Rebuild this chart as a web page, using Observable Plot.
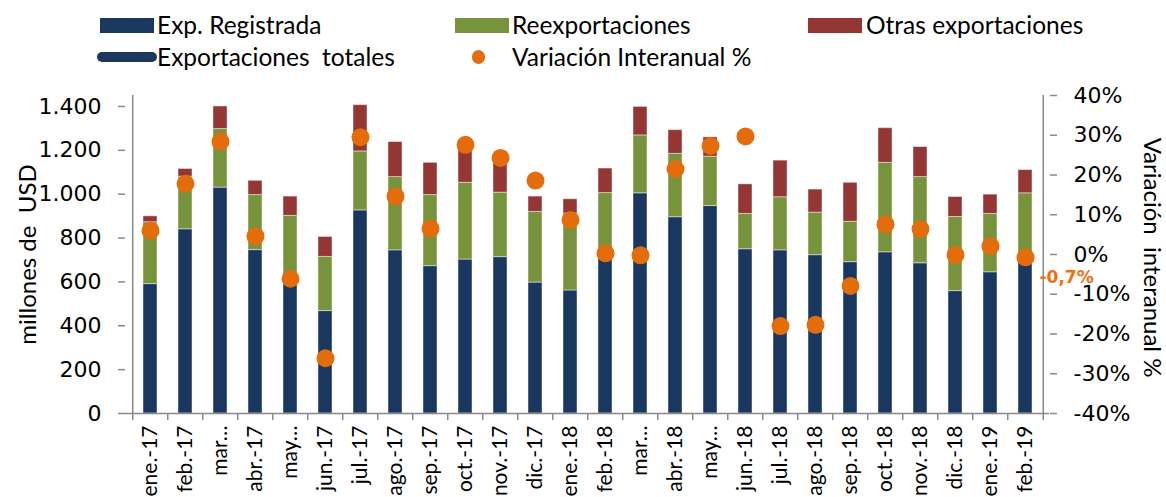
<!DOCTYPE html>
<html><head><meta charset="utf-8">
<script src="https://cdn.jsdelivr.net/npm/d3@7"></script>
<script src="https://cdn.jsdelivr.net/npm/@observablehq/plot@0.6"></script>
<style>
body{margin:0;background:#fff;font-family:Lato, "Open Sans", sans-serif;}
#legend{position:relative;height:80px;width:1166px;font-size:24.5px;color:#000;}
.sw{position:absolute;}
.lt{position:absolute;white-space:pre;line-height:1;transform:translateY(-50%);}
</style></head><body>
<div id="legend"></div>
<div id="chart"></div>
<script>
const months = ["ene.-17","feb.-17","mar.-17","abr.-17","may.-17","jun.-17","jul.-17","ago.-17","sep.-17","oct.-17","nov.-17","dic.-17","ene.-18","feb.-18","mar.-18","abr.-18","may.-18","jun.-18","jul.-18","ago.-18","sep.-18","oct.-18","nov.-18","dic.-18","ene.-19","feb.-19"];
const tickLabels = ["ene.-17","feb.-17","mar…","abr.-17","may…","jun.-17","jul.-17","ago.-17","sep.-17","oct.-17","nov.-17","dic.-17","ene.-18","feb.-18","mar…","abr.-18","may…","jun.-18","jul.-18","ago.-18","sep.-18","oct.-18","nov.-18","dic.-18","ene.-19","feb.-19"];
const registrada = [590, 840, 1030, 745, 590, 467, 926, 744, 672, 702, 713, 597, 561, 710, 1004, 895, 946, 749, 744, 722, 690, 735, 685, 558, 644, 690];
const reexportaciones = [282, 240, 267, 251, 311, 247, 269, 334, 324, 350, 294, 322, 351, 295, 264, 289, 225, 161, 242, 194, 184, 408, 393, 338, 266, 314];
const otras = [27, 35, 103, 65, 88, 91, 211, 160, 147, 154, 135, 70, 65, 112, 130, 108, 88, 135, 167, 105, 178, 158, 137, 91, 88, 106];
const variacion = [6.0, 17.8, 28.4, 4.6, -6.1, -26.1, 29.5, 14.6, 6.5, 27.6, 24.3, 18.6, 8.7, 0.3, -0.2, 21.5, 27.3, 29.7, -18.0, -17.7, -7.9, 7.6, 6.4, -0.1, 2.1, -0.7];
const leftTicks = [0, 200, 400, 600, 800, 1000, 1200, 1400];
const rightTicks = [-40, -30, -20, -10, 0, 10, 20, 30, 40];
const seriesNames = ["Exp. Registrada", "Reexportaciones", "Otras exportaciones"];
const seriesColors = ["#1a3760", "#77933c", "#943634"];
const orange = "#e46c0a";
const navy = "#1a3760";

const yMax = 1450, pMin = -40, pMax = 40;
const toY = p => (p - pMin) / (pMax - pMin) * yMax;
const fromY = v => v / yMax * (pMax - pMin) + pMin;

// legend (HTML, above the SVG)
const legend = document.getElementById("legend");
function add(html){ legend.insertAdjacentHTML("beforeend", html); }
const row1 = 25, row2 = 57;
const sw = [[100,157],[455,512],[808,866]];
seriesNames.forEach((s,i)=>{
  add(`<div class="sw" style="left:${sw[i][0]}px;top:${row1-7}px;width:54px;height:15px;background:${seriesColors[i]}"></div>`);
  add(`<div class="lt" style="left:${sw[i][1]}px;top:${row1}px">${s}</div>`);
});
add(`<div class="sw" style="left:97px;top:${row2-5}px;width:60px;height:10px;border-radius:5px;background:${navy}"></div>`);
add(`<div class="lt" style="left:157px;top:${row2}px">Exportaciones  totales</div>`);
add(`<div class="sw" style="left:472px;top:${row2-7}px;width:13px;height:14px;border-radius:7px;background:${orange}"></div>`);
add(`<div class="lt" style="left:512px;top:${row2}px">Variación Interanual %</div>`);

const long = [];
seriesNames.forEach((s,k)=>{
  const arr = [registrada, reexportaciones, otras][k];
  months.forEach((m,i)=> long.push({month:m, series:s, value:arr[i]}));
});
const pts = months.map((m,i)=>({month:m, pct:variacion[i]}));

const W = 1166, H = 417, mL = 125, mR = 117, mT = 15, mB = 84;
const step = (W - mL - mR) / months.length;
const tickLen = 7 / (H - mT - mB) * yMax;
const fmtL = d3.formatLocale({decimal:",", thousands:".", grouping:[3], currency:["",""]}).format(",d");
const fmtPct = v => (v < 0 ? "-" : "") + Math.abs(v).toFixed(1).replace(".", ",") + "%";
const axisStroke = "#898989";
const numFont = "'DejaVu Sans', Verdana, sans-serif";

const chart = Plot.plot({
  width: W, height: H, marginLeft: mL, marginRight: mR, marginTop: mT, marginBottom: mB,
  style: {fontFamily: "Lato, 'Open Sans', sans-serif", fontSize: "22px", color: "#000", background: "transparent", overflow: "visible"},
  x: {domain: months, paddingInner: 0.6, paddingOuter: 0.3, axis: null, label: null},
  y: {domain: [0, yMax], axis: null, label: null},
  color: {domain: seriesNames, range: seriesColors},
  marks: [
    Plot.barY(long, {x: "month", y: "value", fill: "series", stroke: "#fff", strokeOpacity: 0.45, strokeWidth: 1}),
    // axis lines
    Plot.ruleX([months[0]], {dx: -step/2, y1: 0, y2: yMax, stroke: axisStroke, strokeWidth: 1.5}),
    Plot.ruleX([months[months.length-1]], {dx: step/2, y1: 0, y2: yMax, stroke: axisStroke, strokeWidth: 1.5}),
    Plot.ruleY([0], {stroke: axisStroke, strokeWidth: 1.5}),
    // category boundary ticks
    Plot.ruleX(months, {x: d => d, dx: -step/2, y1: 0, y2: -tickLen, stroke: axisStroke, strokeWidth: 1.5}),
    Plot.ruleX([months[months.length-1]], {dx: step/2, y1: 0, y2: -tickLen, stroke: axisStroke, strokeWidth: 1.5}),
    Plot.axisY(leftTicks, {anchor: "left", tickSize: 7, tickPadding: 17, tickFormat: fmtL, stroke: axisStroke, strokeWidth: 1.5, fill: "#000", fontSize: 22, fontFamily: numFont, label: null}),
    Plot.axisY(rightTicks.map(toY), {anchor: "right", tickSize: 7, tickPadding: 17, tickFormat: v => Math.round(fromY(v)) + "%", stroke: axisStroke, strokeWidth: 1.5, fill: "#000", fontSize: 22, fontFamily: numFont, label: null}),
    Plot.axisX({tickSize: 0, tickPadding: 12, tickRotate: -90, tickFormat: d => tickLabels[months.indexOf(d)], fontSize: 21, fill: "#000", label: null}),
    Plot.text(["millones de  USD"], {frameAnchor: "left", dx: -97, rotate: -90, textAnchor: "middle", fontSize: 24, fill: "#000"}),
    Plot.text(["Variación  interanual %"], {frameAnchor: "right", dx: 102, dy: 3, rotate: 90, textAnchor: "middle", fontSize: 24, fill: "#000"}),
    Plot.dot(pts, {x: "month", y: d => toY(d.pct), r: 9, fill: orange}),
    Plot.text([pts[pts.length-1]], {x: "month", y: d => toY(d.pct), text: d => fmtPct(d.pct), dx: 14, dy: 20, textAnchor: "start", fill: "#f26f10", fontWeight: "bold", fontSize: 17, fontFamily: numFont})
  ]
});
document.getElementById("chart").appendChild(chart);
</script>
</body></html>
